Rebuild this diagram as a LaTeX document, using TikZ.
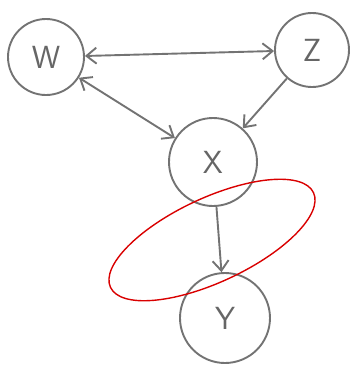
\documentclass[tikz,border=0pt]{standalone}
\usetikzlibrary{arrows.meta}
\begin{document}
\begin{tikzpicture}[x=1pt,y=-1pt,
  pencil/.style={draw=black!55,line width=1.9pt},
  var/.style={pencil,circle,inner sep=0pt,font=\sffamily\fontsize{32}{32}\selectfont,text=black!60},
  arr/.style={pencil,-{Straight Barb[length=10pt,width=16pt]}},
  darr/.style={pencil,{Straight Barb[length=10pt,width=16pt]}-{Straight Barb[length=10pt,width=16pt]}}]
\useasboundingbox (0,0) rectangle (358,368);
\node[var,minimum size=76pt] (W) at (46,57) {W};
\node[var,minimum size=74pt] (Z) at (312,50) {Z};
\node[var,minimum size=88pt] (X) at (213,162) {X};
\node[var,minimum size=90pt] (Y) at (225,318) {Y};
\draw[darr] (W) -- (Z);
\draw[darr] (W) -- (X);
\draw[arr] (Z) -- (X);
\draw[arr] (X) -- (Y);
\draw[red!85!black,line width=1.4pt,rotate around={25:(212,240)}] (212,240) ellipse [x radius=112, y radius=42];
\end{tikzpicture}
\end{document}
